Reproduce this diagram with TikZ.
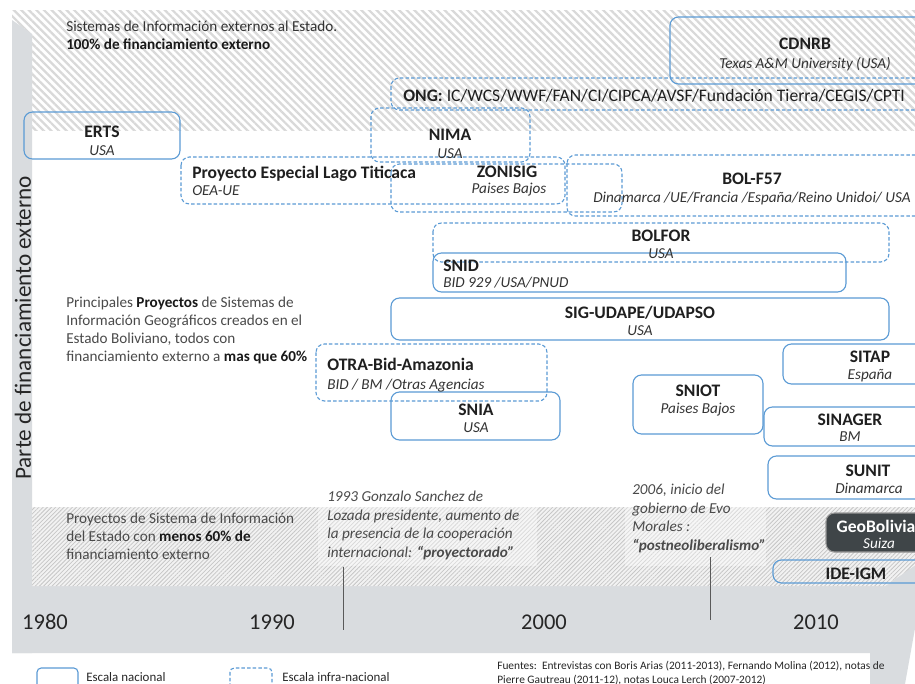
\documentclass[tikz,border=0pt]{standalone}
\usepackage{fontspec}
\setmainfont{Carlito}
\usetikzlibrary{patterns.meta}

\definecolor{azul}{HTML}{5B9BD5}
\definecolor{grisbarra}{HTML}{D9DCDF}
\definecolor{gristexto}{HTML}{4A4A4A}
\definecolor{oscuro}{HTML}{3F4548}

\newcommand{\resalta}[1]{{\bfseries\color{black!90}#1}}

\tikzset{
  nacional/.style={draw=azul, line width=0.8pt, rounded corners=6pt},
  infra/.style={nacional, dash pattern=on 2.5pt off 1.5pt},
  titulo/.style={anchor=base, inner sep=0pt, font=\fontsize{12.5}{14}\selectfont\bfseries, text=black!88},
  pais/.style={anchor=base, inner sep=0pt, font=\fontsize{10.8}{12}\selectfont\itshape, text=black!80},
  anio/.style={anchor=base, inner sep=0pt, font=\fontsize{16}{18}\selectfont, text=black!85},
  texto/.style={anchor=base west, inner sep=0pt, align=left, font=\fontsize{10.8}{12.8}\selectfont, text=gristexto},
  nota/.style={anchor=base west, inner sep=0pt, align=left, font=\fontsize{10.8}{13.1}\selectfont\itshape, text=gristexto},
  leyenda/.style={anchor=base west, inner sep=0pt, font=\fontsize{9.2}{10}\selectfont, text=black!85},
  hito/.style={draw=gray!70!black, line width=0.7pt},
}

\begin{document}
\begin{tikzpicture}[x=0.025cm, y=-0.025cm]
    \useasboundingbox (0,0) rectangle (915,684);
    \clip (0,0) rectangle (915,684);

    % Fondo
    \fill[white] (0,0) rectangle (915,684);

    % Franja superior: 100% externo
    \fill[pattern={Lines[angle=-45, distance=3.8pt, line width=1.6pt]}, pattern color=gray!30]
        (12,10) rectangle (930,130);

    % Ejes grises
    \fill[grisbarra] (12,20) -- (32,34) -- (32,653) -- (12,653) -- cycle;
    \fill[grisbarra] (12,586) -- (885,586) -- (928,556) -- (905,684) -- (870,684) -- (870,653) -- (12,653) -- cycle;

    % Franja inferior: menos de 60%
    \fill[gray!10] (32,507) -- (930,507) -- (930,555) -- (885,586) -- (32,586) -- cycle;
    \fill[pattern={Lines[angle=45, distance=2.1pt, line width=0.55pt]}, pattern color=gray!45]
        (32,507) -- (930,507) -- (930,555) -- (885,586) -- (32,586) -- cycle;
    \fill[white, opacity=0.35] (318,488) rectangle (537,566);
    \fill[white, opacity=0.35] (625,505) rectangle (766,566);

    % Escala nacional
    \draw[nacional] (670,17) rectangle (940,84);
    \draw[nacional] (24,112) rectangle (180,159);
    \draw[nacional] (433,253) rectangle (846,292);
    \draw[nacional] (391,298) rectangle (889,340);
    \draw[nacional] (391,392) rectangle (560,440);
    \draw[nacional] (633,375) rectangle (763,434);
    \draw[nacional] (783,344) rectangle (957,384);
    \draw[nacional] (764,407) rectangle (936,446);
    \draw[nacional] (768,456) rectangle (970,499);
    \draw[nacional, draw=gray!80, fill=oscuro] (826,513) rectangle (926,552);
    \draw[nacional] (773,560) rectangle (939,583);

    % Escala infra-nacional
    \draw[infra] (391,78) rectangle (960,110);
    \draw[infra] (371,108) rectangle (530,162);
    \draw[infra] (181,157) rectangle (565,204);
    \draw[infra] (391,164) rectangle (622,212);
    \draw[infra] (567,155) rectangle (960,216);
    \draw[infra] (433,223) rectangle (889,262);
    \draw[infra] (316,344) rectangle (547,401);

    % Proyectos
    \node[titulo] (cdnrb) at (805,49) {CDNRB};
    \node[pais] (cdnrb-f) at (805,68) {Texas A\&M University (USA)};
    \node[anchor=base west, inner sep=0pt, font=\fontsize{12.5}{15}\selectfont, text=black!88] (ong) at (403,101)
        {\textbf{ONG:} IC/WCS/WWF/FAN/CI/CIPCA/AVSF/Fundación Tierra/CEGIS/CPTI};
    \node[titulo] (erts) at (102,137) {ERTS};
    \node[pais] (erts-f) at (102,155) {USA};
    \node[titulo] (nima) at (450,140) {NIMA};
    \node[pais] (nima-f) at (450,158) {USA};
    \node[titulo, anchor=base west] (titicaca) at (192,178) {Proyecto Especial Lago Titicaca};
    \node[pais, anchor=base west] (titicaca-f) at (192,195) {OEA-UE};
    \node[titulo] (zonisig) at (507,177) {ZONISIG};
    \node[pais] (zonisig-f) at (509,193) {Paises Bajos};
    \node[titulo] (bolf57) at (752,184) {BOL-F57};
    \node[pais] (bolf57-f) at (752,202) {Dinamarca /UE/Francia /España/Reino Unidoi/ USA};
    \node[titulo] (bolfor) at (661,241) {BOLFOR};
    \node[pais] (bolfor-f) at (661,258) {USA};
    \node[titulo, anchor=base west] (snid) at (443,271) {SNID};
    \node[pais, anchor=base west] (snid-f) at (443,287) {BID 929 /USA/PNUD};
    \node[titulo] (udape) at (640,318) {SIG-UDAPE/UDAPSO};
    \node[pais] (udape-f) at (640,335) {USA};
    \node[titulo, anchor=base west] (otra) at (327,370) {OTRA-Bid-Amazonia};
    \node[pais, anchor=base west] (otra-f) at (327,389) {BID / BM /Otras Agencias};
    \node[titulo] (snia) at (476,415) {SNIA};
    \node[pais] (snia-f) at (476,432) {USA};
    \node[titulo] (sniot) at (698,396) {SNIOT};
    \node[pais] (sniot-f) at (698,413) {Paises Bajos};
    \node[titulo] (sitap) at (870,362) {SITAP};
    \node[pais] (sitap-f) at (870,379) {España};
    \node[titulo] (sinager) at (850,425) {SINAGER};
    \node[pais] (sinager-f) at (850,441) {BM};
    \node[titulo] (sunit) at (868,476) {SUNIT};
    \node[pais] (sunit-f) at (869,493) {Dinamarca};
    \node[titulo, text=white] (geobolivia) at (876,532) {GeoBolivia};
    \node[pais, text=white] (geobolivia-f) at (879,548) {Suiza};
    \node[titulo] (ideigm) at (856,579) {IDE-IGM};

    % Textos explicativos (base = ultima linea)
    \node[texto, text=black!80] (externos) at (66,49)
        {Sistemas de Información externos al Estado.\\\resalta{100\% de financiamiento externo}};
    \node[texto] (principales) at (66,361)
        {Principales \resalta{Proyectos} de Sistemas de\\Información Geográficos creados en el\\Estado Boliviano, todos con\\financiamiento externo a \resalta{mas que 60\%}};
    \node[texto] (estado) at (66,559)
        {Proyectos de Sistema de Información\\del Estado con \resalta{menos 60\% de}\\financiamiento externo};
    \node[rotate=90, inner sep=0pt, font=\fontsize{16.5}{18}\selectfont, text=black!85] (eje) at (23,328)
        {Parte de financiamiento externo};

    % Hitos
    \node[nota] (n1993) at (327,557)
        {1993 Gonzalo Sanchez de\\Lozada presidente, aumento de\\la presencia de la cooperación\\internacional: \textbf{“proyectorado”}};
    \node[nota] (n2006) at (632,550)
        {2006, inicio del\\gobierno de Evo\\Morales :\\\textbf{“postneoliberalismo”}};
    \coordinate (h1993a) at (343,567);
    \coordinate (h1993b) at (343,630);
    \coordinate (h2006a) at (710,557);
    \coordinate (h2006b) at (710,620);
    \draw[hito] (h1993a) -- (h1993b);
    \draw[hito] (h2006a) -- (h2006b);

    % Años
    \node[anio] (a1980) at (45,629) {1980};
    \node[anio] (a1990) at (272,629) {1990};
    \node[anio] (a2000) at (544,629) {2000};
    \node[anio] (a2010) at (816,629) {2010};

    % Leyenda
    \draw[nacional, rounded corners=3pt] (37,668) rectangle (78,692);
    \node[leyenda] (lnacional) at (86,681) {Escala nacional};
    \draw[infra, rounded corners=3pt] (230,668) rectangle (272,692);
    \node[leyenda] (linfra) at (282,681) {Escala infra-nacional};
    \node[leyenda, align=left, font=\fontsize{8.1}{9.4}\selectfont] (fuentes) at (497,683)
        {Fuentes:~~Entrevistas con Boris Arias (2011-2013), Fernando Molina (2012), notas de\\Pierre Gautreau (2011-12), notas Louca Lerch (2007-2012)};
\end{tikzpicture}
\end{document}
